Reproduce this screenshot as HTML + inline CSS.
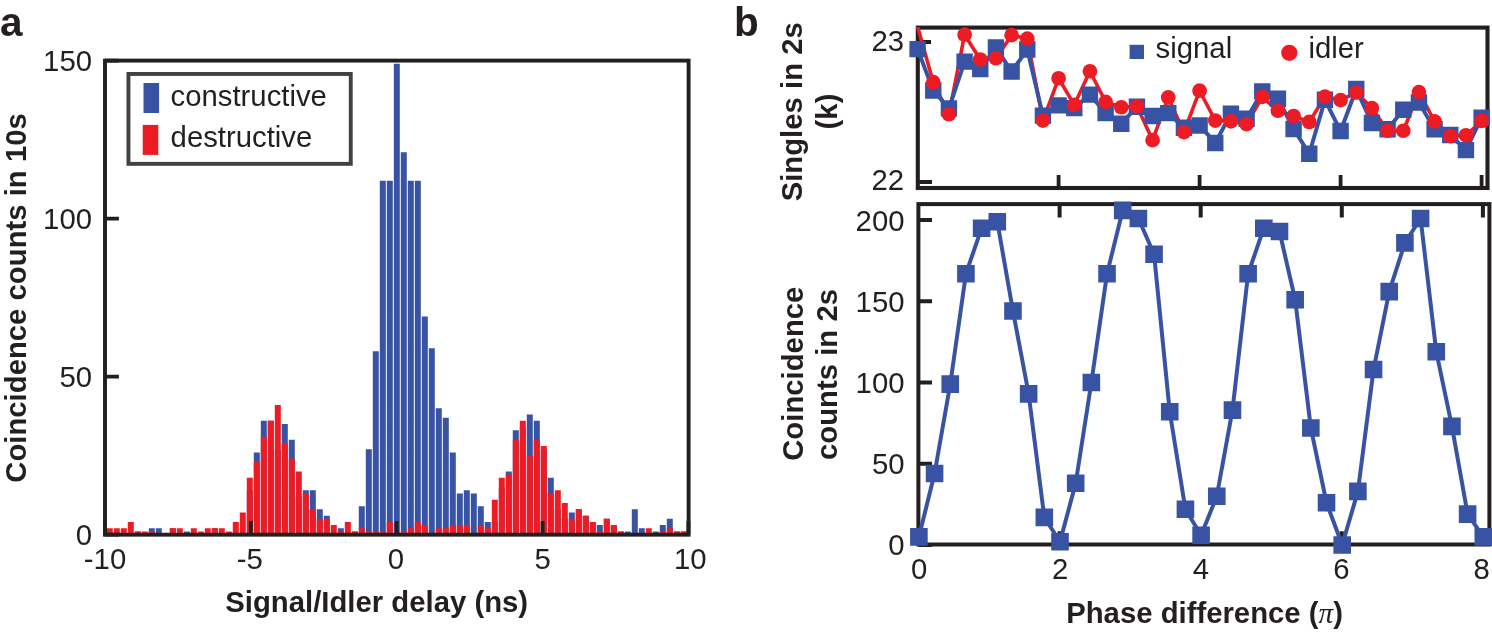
<!DOCTYPE html>
<html><head><meta charset="utf-8"><style>
html,body{margin:0;padding:0;background:#fff;}
svg{display:block;font-family:"Liberation Sans",sans-serif;}
svg{will-change:transform;}
</style></head><body>
<svg width="1492" height="637" viewBox="0 0 1492 637" fill="#231f20">
<path fill="#3953a4" d="M134.80 531.44h6.0V534.6h-6.0zM148.80 528.28h6.0V534.6h-6.0zM155.80 528.28h6.0V534.6h-6.0zM169.80 528.28h6.0V534.6h-6.0zM183.80 531.44h6.0V534.6h-6.0zM211.80 528.28h6.0V534.6h-6.0zM246.80 490.36h6.0V534.6h-6.0zM253.80 452.44h6.0V534.6h-6.0zM260.80 420.84h6.0V534.6h-6.0zM267.80 420.84h6.0V534.6h-6.0zM274.80 449.28h6.0V534.6h-6.0zM281.80 424.00h6.0V534.6h-6.0zM288.80 439.80h6.0V534.6h-6.0zM295.80 496.68h6.0V534.6h-6.0zM302.80 490.36h6.0V534.6h-6.0zM309.80 490.36h6.0V534.6h-6.0zM316.80 509.32h6.0V534.6h-6.0zM323.80 515.64h6.0V534.6h-6.0zM337.80 528.28h6.0V534.6h-6.0zM351.80 531.44h6.0V534.6h-6.0zM358.80 506.16h6.0V534.6h-6.0zM365.80 449.28h6.0V534.6h-6.0zM372.80 351.32h6.0V534.6h-6.0zM379.80 180.68h6.0V534.6h-6.0zM386.80 180.68h6.0V534.6h-6.0zM393.80 63.76h6.0V534.6h-6.0zM400.80 152.24h6.0V534.6h-6.0zM407.80 180.68h6.0V534.6h-6.0zM414.80 180.68h6.0V534.6h-6.0zM421.80 316.56h6.0V534.6h-6.0zM428.80 348.16h6.0V534.6h-6.0zM435.80 408.20h6.0V534.6h-6.0zM442.80 417.68h6.0V534.6h-6.0zM449.80 452.44h6.0V534.6h-6.0zM456.80 493.52h6.0V534.6h-6.0zM463.80 490.36h6.0V534.6h-6.0zM470.80 493.52h6.0V534.6h-6.0zM477.80 506.16h6.0V534.6h-6.0zM484.80 521.96h6.0V534.6h-6.0zM491.80 521.96h6.0V534.6h-6.0zM498.80 487.20h6.0V534.6h-6.0zM505.80 471.40h6.0V534.6h-6.0zM512.80 430.32h6.0V534.6h-6.0zM519.80 427.16h6.0V534.6h-6.0zM526.80 414.52h6.0V534.6h-6.0zM533.80 420.84h6.0V534.6h-6.0zM540.80 449.28h6.0V534.6h-6.0zM547.80 477.72h6.0V534.6h-6.0zM554.80 509.32h6.0V534.6h-6.0zM561.80 518.80h6.0V534.6h-6.0zM568.80 512.48h6.0V534.6h-6.0zM575.80 509.32h6.0V534.6h-6.0zM582.80 515.64h6.0V534.6h-6.0zM589.80 521.96h6.0V534.6h-6.0zM596.80 525.12h6.0V534.6h-6.0zM603.80 518.80h6.0V534.6h-6.0zM610.80 525.12h6.0V534.6h-6.0zM617.80 531.44h6.0V534.6h-6.0zM624.80 531.44h6.0V534.6h-6.0zM631.80 509.32h6.0V534.6h-6.0zM638.80 528.28h6.0V534.6h-6.0zM652.80 531.44h6.0V534.6h-6.0zM659.80 525.12h6.0V534.6h-6.0zM666.80 518.80h6.0V534.6h-6.0zM673.80 531.44h6.0V534.6h-6.0zM680.80 531.44h6.0V534.6h-6.0z"/>
<path fill="#ed1c24" d="M106.80 528.28h6.0V534.6h-6.0zM113.80 528.28h6.0V534.6h-6.0zM120.80 528.28h6.0V534.6h-6.0zM127.80 521.96h6.0V534.6h-6.0zM134.80 531.44h6.0V534.6h-6.0zM141.80 531.44h6.0V534.6h-6.0zM148.80 531.44h6.0V534.6h-6.0zM169.80 528.28h6.0V534.6h-6.0zM176.80 528.28h6.0V534.6h-6.0zM190.80 528.28h6.0V534.6h-6.0zM197.80 531.44h6.0V534.6h-6.0zM204.80 528.28h6.0V534.6h-6.0zM211.80 528.28h6.0V534.6h-6.0zM218.80 528.28h6.0V534.6h-6.0zM225.80 531.44h6.0V534.6h-6.0zM232.80 521.96h6.0V534.6h-6.0zM239.80 512.48h6.0V534.6h-6.0zM246.80 477.72h6.0V534.6h-6.0zM253.80 461.92h6.0V534.6h-6.0zM260.80 436.64h6.0V534.6h-6.0zM267.80 420.84h6.0V534.6h-6.0zM274.80 405.04h6.0V534.6h-6.0zM281.80 442.96h6.0V534.6h-6.0zM288.80 458.76h6.0V534.6h-6.0zM295.80 471.40h6.0V534.6h-6.0zM302.80 493.52h6.0V534.6h-6.0zM309.80 509.32h6.0V534.6h-6.0zM316.80 518.80h6.0V534.6h-6.0zM323.80 518.80h6.0V534.6h-6.0zM330.80 525.12h6.0V534.6h-6.0zM337.80 531.44h6.0V534.6h-6.0zM344.80 521.96h6.0V534.6h-6.0zM351.80 531.44h6.0V534.6h-6.0zM358.80 528.28h6.0V534.6h-6.0zM365.80 531.44h6.0V534.6h-6.0zM372.80 531.44h6.0V534.6h-6.0zM379.80 531.44h6.0V534.6h-6.0zM386.80 521.96h6.0V534.6h-6.0zM400.80 531.44h6.0V534.6h-6.0zM407.80 528.28h6.0V534.6h-6.0zM414.80 521.96h6.0V534.6h-6.0zM421.80 525.12h6.0V534.6h-6.0zM435.80 528.28h6.0V534.6h-6.0zM442.80 528.28h6.0V534.6h-6.0zM449.80 525.12h6.0V534.6h-6.0zM456.80 525.12h6.0V534.6h-6.0zM463.80 525.12h6.0V534.6h-6.0zM477.80 525.12h6.0V534.6h-6.0zM484.80 528.28h6.0V534.6h-6.0zM491.80 499.84h6.0V534.6h-6.0zM498.80 477.72h6.0V534.6h-6.0zM505.80 474.56h6.0V534.6h-6.0zM512.80 439.80h6.0V534.6h-6.0zM519.80 420.84h6.0V534.6h-6.0zM526.80 455.60h6.0V534.6h-6.0zM533.80 439.80h6.0V534.6h-6.0zM540.80 446.12h6.0V534.6h-6.0zM547.80 493.52h6.0V534.6h-6.0zM554.80 490.36h6.0V534.6h-6.0zM561.80 503.00h6.0V534.6h-6.0zM568.80 518.80h6.0V534.6h-6.0zM575.80 509.32h6.0V534.6h-6.0zM582.80 515.64h6.0V534.6h-6.0zM589.80 521.96h6.0V534.6h-6.0zM596.80 531.44h6.0V534.6h-6.0zM603.80 518.80h6.0V534.6h-6.0zM610.80 525.12h6.0V534.6h-6.0zM617.80 531.44h6.0V534.6h-6.0zM645.80 528.28h6.0V534.6h-6.0zM659.80 531.44h6.0V534.6h-6.0zM666.80 528.28h6.0V534.6h-6.0zM673.80 531.44h6.0V534.6h-6.0zM680.80 531.44h6.0V534.6h-6.0z"/>
<rect x="105.0" y="60.6" width="583.60" height="474.10" fill="none" stroke="#231f20" stroke-width="3.9"/>
<path stroke="#231f20" stroke-width="3.9" fill="none" d="M105.0 534.60H118.9M105.0 376.60H118.9M105.0 218.60H118.9M105.0 60.60H118.9M105.00 534.7V521M250.90 534.7V521M396.70 534.7V521M542.60 534.7V521M688.40 534.7V521"/>
<rect x="128.45" y="73.95" width="222.3" height="89.9" fill="none" stroke="#414042" stroke-width="3.9"/>
<rect x="143.5" y="83" width="15.6" height="30" fill="#3953a4"/>
<rect x="142.7" y="124.9" width="15.6" height="30" fill="#ed1c24"/>
<text x="170.6" y="106.1" font-size="29.3">constructive</text>
<text x="170.6" y="147.2" font-size="29.3">destructive</text>
<text x="92" y="545.00" font-size="29.3" text-anchor="end">0</text>
<text x="92" y="387.00" font-size="29.3" text-anchor="end">50</text>
<text x="92" y="229.00" font-size="29.3" text-anchor="end">100</text>
<text x="92" y="71.00" font-size="29.3" text-anchor="end">150</text>
<text x="105.00" y="569.3" font-size="29.3" text-anchor="middle">-10</text>
<text x="249.90" y="569.3" font-size="29.3" text-anchor="middle">-5</text>
<text x="395.90" y="569.3" font-size="29.3" text-anchor="middle">0</text>
<text x="542.60" y="569.3" font-size="29.3" text-anchor="middle">5</text>
<text x="690.20" y="569.3" font-size="29.3" text-anchor="middle">10</text>
<text x="376.7" y="611.5" font-size="29.3" font-weight="bold" text-anchor="middle">Signal/Idler delay (ns)</text>
<text transform="translate(25.5 298) rotate(-90)" font-size="29.3" font-weight="bold" text-anchor="middle">Coincidence counts in 10s</text>
<text x="0" y="36" font-size="40.5" font-weight="bold">a</text>
<text x="734" y="35.7" font-size="40.5" font-weight="bold">b</text>
<rect x="918.4" y="204.1" width="571.00" height="340.40" fill="none" stroke="#231f20" stroke-width="4"/>
<path stroke="#231f20" stroke-width="4" fill="none" d="M918.4 545.00H932M918.4 463.77H932M918.4 382.55H932M918.4 301.32H932M918.4 220.10H932M1059.60 204.1V217.6M1059.60 544.5V531.2M1200.70 204.1V217.6M1200.70 544.5V531.2M1341.80 204.1V217.6M1341.80 544.5V531.2M1482.90 204.1V217.6"/>
<polyline points="918.90,536.88 934.58,473.52 950.26,384.17 965.93,273.71 981.61,228.22 997.29,221.72 1012.97,311.07 1028.64,393.92 1044.32,517.38 1060.00,541.75 1075.68,483.27 1091.36,382.55 1107.03,273.71 1122.71,210.35 1138.39,218.48 1154.07,254.21 1169.74,411.79 1185.42,509.26 1201.10,535.25 1216.78,496.26 1232.46,410.17 1248.13,273.71 1263.81,228.22 1279.49,231.47 1295.17,299.70 1310.84,428.04 1326.52,502.76 1342.20,545.00 1357.88,491.39 1373.56,369.55 1389.23,291.58 1404.91,242.84 1420.59,218.48 1436.27,351.68 1451.94,426.41 1467.62,514.13 1483.30,536.88" fill="none" stroke="#3953a4" stroke-width="4" stroke-linejoin="round"/>
<path fill="#3953a4" d="M910.10 528.08h17.6v17.6h-17.6zM925.78 464.72h17.6v17.6h-17.6zM941.46 375.37h17.6v17.6h-17.6zM957.13 264.91h17.6v17.6h-17.6zM972.81 219.42h17.6v17.6h-17.6zM988.49 212.92h17.6v17.6h-17.6zM1004.17 302.27h17.6v17.6h-17.6zM1019.84 385.12h17.6v17.6h-17.6zM1035.52 508.58h17.6v17.6h-17.6zM1051.20 532.95h17.6v17.6h-17.6zM1066.88 474.47h17.6v17.6h-17.6zM1082.56 373.75h17.6v17.6h-17.6zM1098.23 264.91h17.6v17.6h-17.6zM1113.91 201.55h17.6v17.6h-17.6zM1129.59 209.68h17.6v17.6h-17.6zM1145.27 245.41h17.6v17.6h-17.6zM1160.94 402.99h17.6v17.6h-17.6zM1176.62 500.46h17.6v17.6h-17.6zM1192.30 526.45h17.6v17.6h-17.6zM1207.98 487.46h17.6v17.6h-17.6zM1223.66 401.37h17.6v17.6h-17.6zM1239.33 264.91h17.6v17.6h-17.6zM1255.01 219.42h17.6v17.6h-17.6zM1270.69 222.67h17.6v17.6h-17.6zM1286.37 290.90h17.6v17.6h-17.6zM1302.04 419.24h17.6v17.6h-17.6zM1317.72 493.96h17.6v17.6h-17.6zM1333.40 536.20h17.6v17.6h-17.6zM1349.08 482.59h17.6v17.6h-17.6zM1364.76 360.75h17.6v17.6h-17.6zM1380.43 282.78h17.6v17.6h-17.6zM1396.11 234.04h17.6v17.6h-17.6zM1411.79 209.68h17.6v17.6h-17.6zM1427.47 342.88h17.6v17.6h-17.6zM1443.14 417.61h17.6v17.6h-17.6zM1458.82 505.33h17.6v17.6h-17.6zM1474.50 528.08h17.6v17.6h-17.6z"/>
<text x="904.5" y="555.40" font-size="29.3" text-anchor="end">0</text>
<text x="904.5" y="474.17" font-size="29.3" text-anchor="end">50</text>
<text x="904.5" y="392.95" font-size="29.3" text-anchor="end">100</text>
<text x="904.5" y="311.72" font-size="29.3" text-anchor="end">150</text>
<text x="904.5" y="230.50" font-size="29.3" text-anchor="end">200</text>
<text x="919.20" y="579.2" font-size="29.3" text-anchor="middle">0</text>
<text x="1060.20" y="579.2" font-size="29.3" text-anchor="middle">2</text>
<text x="1200.90" y="579.2" font-size="29.3" text-anchor="middle">4</text>
<text x="1341.40" y="579.2" font-size="29.3" text-anchor="middle">6</text>
<text x="1481.60" y="579.2" font-size="29.3" text-anchor="middle">8</text>
<text x="1204.6" y="623" font-size="29.3" font-weight="bold" text-anchor="middle">Phase difference (<tspan font-family="Liberation Serif" font-weight="normal" font-style="italic">π</tspan>)</text>
<text transform="translate(802.6 373.7) rotate(-90)" font-size="29.3" font-weight="bold" text-anchor="middle">Coincidence</text>
<text transform="translate(837.4 374.5) rotate(-90)" font-size="29.3" font-weight="bold" text-anchor="middle">counts in 2s</text>
<rect x="917.8" y="27.6" width="569.70" height="160.40" fill="none" stroke="#231f20" stroke-width="4.1"/>
<path stroke="#231f20" stroke-width="3.8" fill="none" d="M917.8 42.00H931M917.8 182.00H932M1058.60 188.0V174.9M1199.60 188.0V174.9M1340.60 188.0V174.9M1481.60 188.0V174.9"/>
<defs><clipPath id="ct"><rect x="907.80" y="27.00" width="589.70" height="161.00"/></clipPath></defs>
<g clip-path="url(#ct)">
<polyline points="917.60,26.60 933.27,82.18 948.93,114.24 964.60,34.72 980.27,59.50 995.93,58.24 1011.60,35.14 1027.27,38.64 1042.93,120.54 1058.60,78.26 1074.27,104.86 1089.93,71.26 1105.60,101.92 1121.27,107.24 1136.93,106.26 1152.60,140.14 1168.27,97.44 1183.93,132.16 1199.60,90.72 1215.27,120.54 1230.93,121.38 1246.60,124.04 1262.27,96.88 1277.93,110.74 1293.60,116.06 1309.27,121.94 1324.93,96.60 1340.60,100.10 1356.27,92.54 1371.93,108.08 1387.60,130.76 1403.27,130.76 1418.93,92.12 1434.60,121.38 1450.27,136.08 1465.93,135.24 1481.60,120.96" fill="none" stroke="#ed1c24" stroke-width="3.6" stroke-linejoin="round"/>
<polyline points="917.60,49.14 933.27,90.44 948.93,108.36 964.60,61.60 980.27,69.02 995.93,47.46 1011.60,71.54 1027.27,49.56 1042.93,115.64 1058.60,105.42 1074.27,108.08 1089.93,94.64 1105.60,113.12 1121.27,123.76 1136.93,106.68 1152.60,116.06 1168.27,113.12 1183.93,127.82 1199.60,125.44 1215.27,142.94 1230.93,113.68 1246.60,118.72 1262.27,91.42 1277.93,98.70 1293.60,128.94 1309.27,153.72 1324.93,99.82 1340.60,131.04 1356.27,89.04 1371.93,123.06 1387.60,129.22 1403.27,109.76 1418.93,102.48 1434.60,129.22 1450.27,134.96 1465.93,150.08 1481.60,117.74" fill="none" stroke="#3953a4" stroke-width="4" stroke-linejoin="round"/>
</g>
<path fill="#3953a4" d="M909.40 40.94h16.4v16.4h-16.4zM925.07 82.24h16.4v16.4h-16.4zM940.73 100.16h16.4v16.4h-16.4zM956.40 53.40h16.4v16.4h-16.4zM972.07 60.82h16.4v16.4h-16.4zM987.73 39.26h16.4v16.4h-16.4zM1003.40 63.34h16.4v16.4h-16.4zM1019.07 41.36h16.4v16.4h-16.4zM1034.73 107.44h16.4v16.4h-16.4zM1050.40 97.22h16.4v16.4h-16.4zM1066.07 99.88h16.4v16.4h-16.4zM1081.73 86.44h16.4v16.4h-16.4zM1097.40 104.92h16.4v16.4h-16.4zM1113.07 115.56h16.4v16.4h-16.4zM1128.73 98.48h16.4v16.4h-16.4zM1144.40 107.86h16.4v16.4h-16.4zM1160.07 104.92h16.4v16.4h-16.4zM1175.73 119.62h16.4v16.4h-16.4zM1191.40 117.24h16.4v16.4h-16.4zM1207.07 134.74h16.4v16.4h-16.4zM1222.73 105.48h16.4v16.4h-16.4zM1238.40 110.52h16.4v16.4h-16.4zM1254.07 83.22h16.4v16.4h-16.4zM1269.73 90.50h16.4v16.4h-16.4zM1285.40 120.74h16.4v16.4h-16.4zM1301.07 145.52h16.4v16.4h-16.4zM1316.73 91.62h16.4v16.4h-16.4zM1332.40 122.84h16.4v16.4h-16.4zM1348.07 80.84h16.4v16.4h-16.4zM1363.73 114.86h16.4v16.4h-16.4zM1379.40 121.02h16.4v16.4h-16.4zM1395.07 101.56h16.4v16.4h-16.4zM1410.73 94.28h16.4v16.4h-16.4zM1426.40 121.02h16.4v16.4h-16.4zM1442.07 126.76h16.4v16.4h-16.4zM1457.73 141.88h16.4v16.4h-16.4zM1473.40 109.54h16.4v16.4h-16.4z"/>
<g fill="#ed1c24"><circle cx="933.27" cy="82.18" r="7.35"/><circle cx="948.93" cy="114.24" r="7.35"/><circle cx="964.60" cy="34.72" r="7.35"/><circle cx="980.27" cy="59.50" r="7.35"/><circle cx="995.93" cy="58.24" r="7.35"/><circle cx="1011.60" cy="35.14" r="7.35"/><circle cx="1027.27" cy="38.64" r="7.35"/><circle cx="1042.93" cy="120.54" r="7.35"/><circle cx="1058.60" cy="78.26" r="7.35"/><circle cx="1074.27" cy="104.86" r="7.35"/><circle cx="1089.93" cy="71.26" r="7.35"/><circle cx="1105.60" cy="101.92" r="7.35"/><circle cx="1121.27" cy="107.24" r="7.35"/><circle cx="1136.93" cy="106.26" r="7.35"/><circle cx="1152.60" cy="140.14" r="7.35"/><circle cx="1168.27" cy="97.44" r="7.35"/><circle cx="1183.93" cy="132.16" r="7.35"/><circle cx="1199.60" cy="90.72" r="7.35"/><circle cx="1215.27" cy="120.54" r="7.35"/><circle cx="1230.93" cy="121.38" r="7.35"/><circle cx="1246.60" cy="124.04" r="7.35"/><circle cx="1262.27" cy="96.88" r="7.35"/><circle cx="1277.93" cy="110.74" r="7.35"/><circle cx="1293.60" cy="116.06" r="7.35"/><circle cx="1309.27" cy="121.94" r="7.35"/><circle cx="1324.93" cy="96.60" r="7.35"/><circle cx="1340.60" cy="100.10" r="7.35"/><circle cx="1356.27" cy="92.54" r="7.35"/><circle cx="1371.93" cy="108.08" r="7.35"/><circle cx="1387.60" cy="130.76" r="7.35"/><circle cx="1403.27" cy="130.76" r="7.35"/><circle cx="1418.93" cy="92.12" r="7.35"/><circle cx="1434.60" cy="121.38" r="7.35"/><circle cx="1450.27" cy="136.08" r="7.35"/><circle cx="1465.93" cy="135.24" r="7.35"/><circle cx="1481.60" cy="120.96" r="7.35"/></g>
<text x="904" y="51.40" font-size="29.3" text-anchor="end">23</text>
<text x="904" y="190.30" font-size="29.3" text-anchor="end">22</text>
<rect x="1129.6" y="44.8" width="14.4" height="14.2" fill="#3953a4"/>
<text x="1155.6" y="58.4" font-size="29.3">signal</text>
<circle cx="1289.3" cy="52.8" r="8.1" fill="#ed1c24"/>
<text x="1308.5" y="58.4" font-size="29.3">idler</text>
<text transform="translate(802 111.8) rotate(-90)" font-size="29.3" font-weight="bold" text-anchor="middle">Singles in 2s</text>
<text transform="translate(837 111.5) rotate(-90)" font-size="29.3" font-weight="bold" text-anchor="middle">(k)</text>
</svg>
</body></html>
